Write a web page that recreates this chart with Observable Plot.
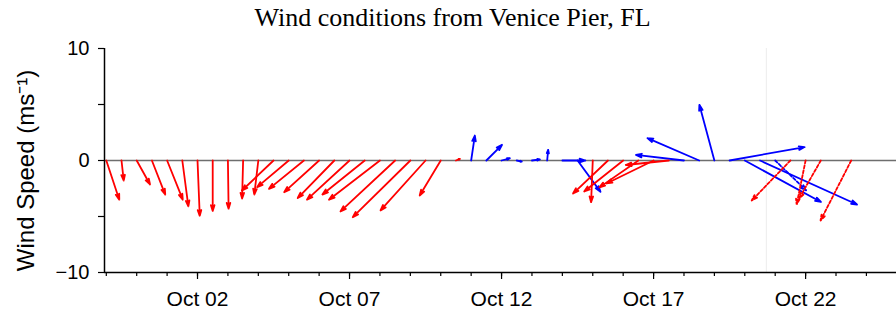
<!DOCTYPE html>
<html><head><meta charset="utf-8">
<script src="https://cdn.jsdelivr.net/npm/d3@7"></script>
<script src="https://cdn.jsdelivr.net/npm/@observablehq/plot@0.6"></script>
<style>
body{margin:0;background:#fff;}
#title{font-family:"Liberation Serif","Times New Roman",serif;font-size:26px;height:40px;line-height:36px;text-align:center;width:887px;padding-left:9px;color:#000;overflow:hidden;}
#chart svg{display:block;}
</style></head><body>
<div id="title"></div>
<div id="chart"></div>
<script>
// ---- data (u, v in m/s) ----
const redTimes = ["2023-09-29T00:00Z","2023-09-29T12:00Z","2023-09-30T00:00Z","2023-09-30T12:00Z","2023-10-01T00:00Z","2023-10-01T12:00Z","2023-10-02T00:00Z","2023-10-02T12:00Z","2023-10-03T00:00Z","2023-10-03T12:00Z","2023-10-04T00:00Z","2023-10-04T12:00Z","2023-10-05T00:00Z","2023-10-05T12:00Z","2023-10-06T00:00Z","2023-10-06T12:00Z","2023-10-07T00:00Z","2023-10-07T12:00Z","2023-10-08T00:00Z","2023-10-08T12:00Z","2023-10-09T00:00Z","2023-10-09T12:00Z","2023-10-10T00:00Z","2023-10-10T12:00Z","2023-10-15T00:00Z","2023-10-15T12:00Z","2023-10-16T00:00Z","2023-10-16T12:00Z","2023-10-17T00:00Z","2023-10-17T12:00Z"];
const redU = [1.16,0.2,1.19,1.19,1.4,0.54,0.2,0,0.06,-0.09,-0.36,-2.82,-2.82,-3.12,-3.12,-3.27,-3.8,-3.78,-4.55,-4.88,-5.14,-4.02,-1.88,0.36,-0.15,-3.12,-3.48,-3.48,-4.2,-3.84];
const redV = [-3.5,-1.8,-2.14,-3.04,-3.5,-4.1,-4.94,-4.5,-4.3,-3.4,-3.04,-2.68,-2.38,-2.53,-2.83,-3.35,-3.5,-3.04,-3.5,-4.55,-5.06,-4.46,-3.13,0.15,-3.72,-2.95,-2.77,-2.4,-2.05,-0.4];

const blueTimes = ["2023-10-11T00:00Z","2023-10-11T12:00Z","2023-10-12T00:00Z","2023-10-12T12:00Z","2023-10-13T00:00Z","2023-10-13T12:00Z","2023-10-14T00:00Z","2023-10-14T12:00Z","2023-10-18T00:00Z","2023-10-18T12:00Z","2023-10-19T00:00Z","2023-10-19T12:00Z","2023-10-20T00:00Z","2023-10-20T12:00Z"];
const blueU = [0.33,1.4,0.74,0.45,0.71,0.09,2.05,2.05,-4.29,-4.62,-1.34,6.7,6.8,8.66];
const blueV = [2.23,1.4,0.2,-0.1,0.1,0.95,0.0,-2.8,0.5,2.0,4.97,1.2,-3.7,-3.93];

const blueDashTimes = ["2023-10-21T00:00Z"];
const blueDashU = [2.77];
const blueDashV = [-2.68];

const redDashTimes = ["2023-10-21T12:00Z","2023-10-22T00:00Z","2023-10-22T12:00Z","2023-10-23T12:00Z"];
const redDashU = [-3.45,-0.8,-1.94,-2.74];
const redDashV = [-3.57,-3.93,-3.4,-5.36];

const markerTime = ["2023-10-20T17:00Z"];

const majorTicks = ["2023-10-02T00:00Z","2023-10-07T00:00Z","2023-10-12T00:00Z","2023-10-17T00:00Z","2023-10-22T00:00Z"];
const majorLabels = ["Oct 02","Oct 07","Oct 12","Oct 17","Oct 22"];
const yTicks = [-10,-5,0,5,10];
const yLabels = ["\u221210","","0","","10"];
const title = "Wind conditions from Venice Pier, FL";
const yTitle = "Wind Speed (ms\u207B\u00B9)";

// ---- layout ----
const W = 896, H = 277, mT = 8, mB = 45, mL = 104, mR = 0;
const xStart = new Date("2023-09-28T22:35Z"), xEnd = new Date("2023-10-24T23:45Z");
const yMin = -10, yMax = 10;
const pxPerUnit = (H - mT - mB) / (yMax - yMin);
const pxPerMs = (W - mL - mR) / (xEnd - xStart);
const msPerUnit = pxPerUnit / pxPerMs;

function build(times, us, vs) {
  return times.map((t, i) => {
    const d = new Date(t);
    return {x1: d, y1: 0, x2: new Date(+d + us[i] * msPerUnit), y2: vs[i]};
  });
}
const red = build(redTimes, redU, redV);
const blue = build(blueTimes, blueU, blueV);
const blueDash = build(blueDashTimes, blueDashU, blueDashV);
const redDash = build(redDashTimes, redDashU, redDashV);

const minorTicks = d3.utcDay.range(new Date("2023-09-29T00:00Z"), xEnd);
const majorDates = majorTicks.map(t => new Date(t));
const arrowOpts = {x1:"x1", y1:"y1", x2:"x2", y2:"y2", strokeWidth:1.8, headLength:5, headAngle:35};

const chart = Plot.plot({
  width: W, height: H,
  marginTop: mT, marginBottom: mB, marginLeft: mL, marginRight: mR,
  style: {fontFamily: "'Liberation Sans', Arial, sans-serif", background: "white", color: "black", overflow: "visible"},
  x: {type: "utc", domain: [xStart, xEnd], axis: null},
  y: {domain: [yMin, yMax], axis: null},
  marks: [
    Plot.ruleX(markerTime.map(t => new Date(t)), {y1: yMin, y2: yMax, stroke: "#ececec", strokeWidth: 1}),
    Plot.ruleY([0], {stroke: "#6e6e6e", strokeWidth: 1.4}),
    Plot.arrow(blue, {...arrowOpts, stroke: "#0000ff"}),
    Plot.arrow(blueDash, {...arrowOpts, stroke: "#0000ff", strokeDasharray: "3,2"}),
    Plot.arrow(red, {...arrowOpts, stroke: "#ff0000"}),
    Plot.arrow(redDash, {...arrowOpts, stroke: "#ff0000", strokeDasharray: "3,2"}),
    Plot.ruleY([yMin], {stroke: "black", strokeWidth: 1.5}),
    Plot.ruleX([xStart], {y1: yMin, y2: yMax, stroke: "black", strokeWidth: 1.5}),
    Plot.axisX(minorTicks, {tickSize: 4, tickFormat: () => "", stroke: "black", strokeWidth: 1.2}),
    Plot.axisX(majorDates, {tickSize: 7, tickPadding: 12, fontSize: 21, stroke: "black", strokeWidth: 1.2,
      tickFormat: (d) => majorLabels[majorDates.findIndex(m => +m === +d)]}),
    Plot.axisY(yTicks, {tickSize: 6, tickPadding: 9, fontSize: 20, stroke: "black", strokeWidth: 1.2,
      tickFormat: (d) => yLabels[yTicks.indexOf(d)]}),
    Plot.text([yTitle], {frameAnchor: "left", textAnchor: "middle", rotate: -90, dx: -78, dy: 10, fontSize: 24, fill: "black"})
  ]
});
document.getElementById("title").textContent = title;
document.getElementById("chart").appendChild(chart);
</script>
</body></html>
